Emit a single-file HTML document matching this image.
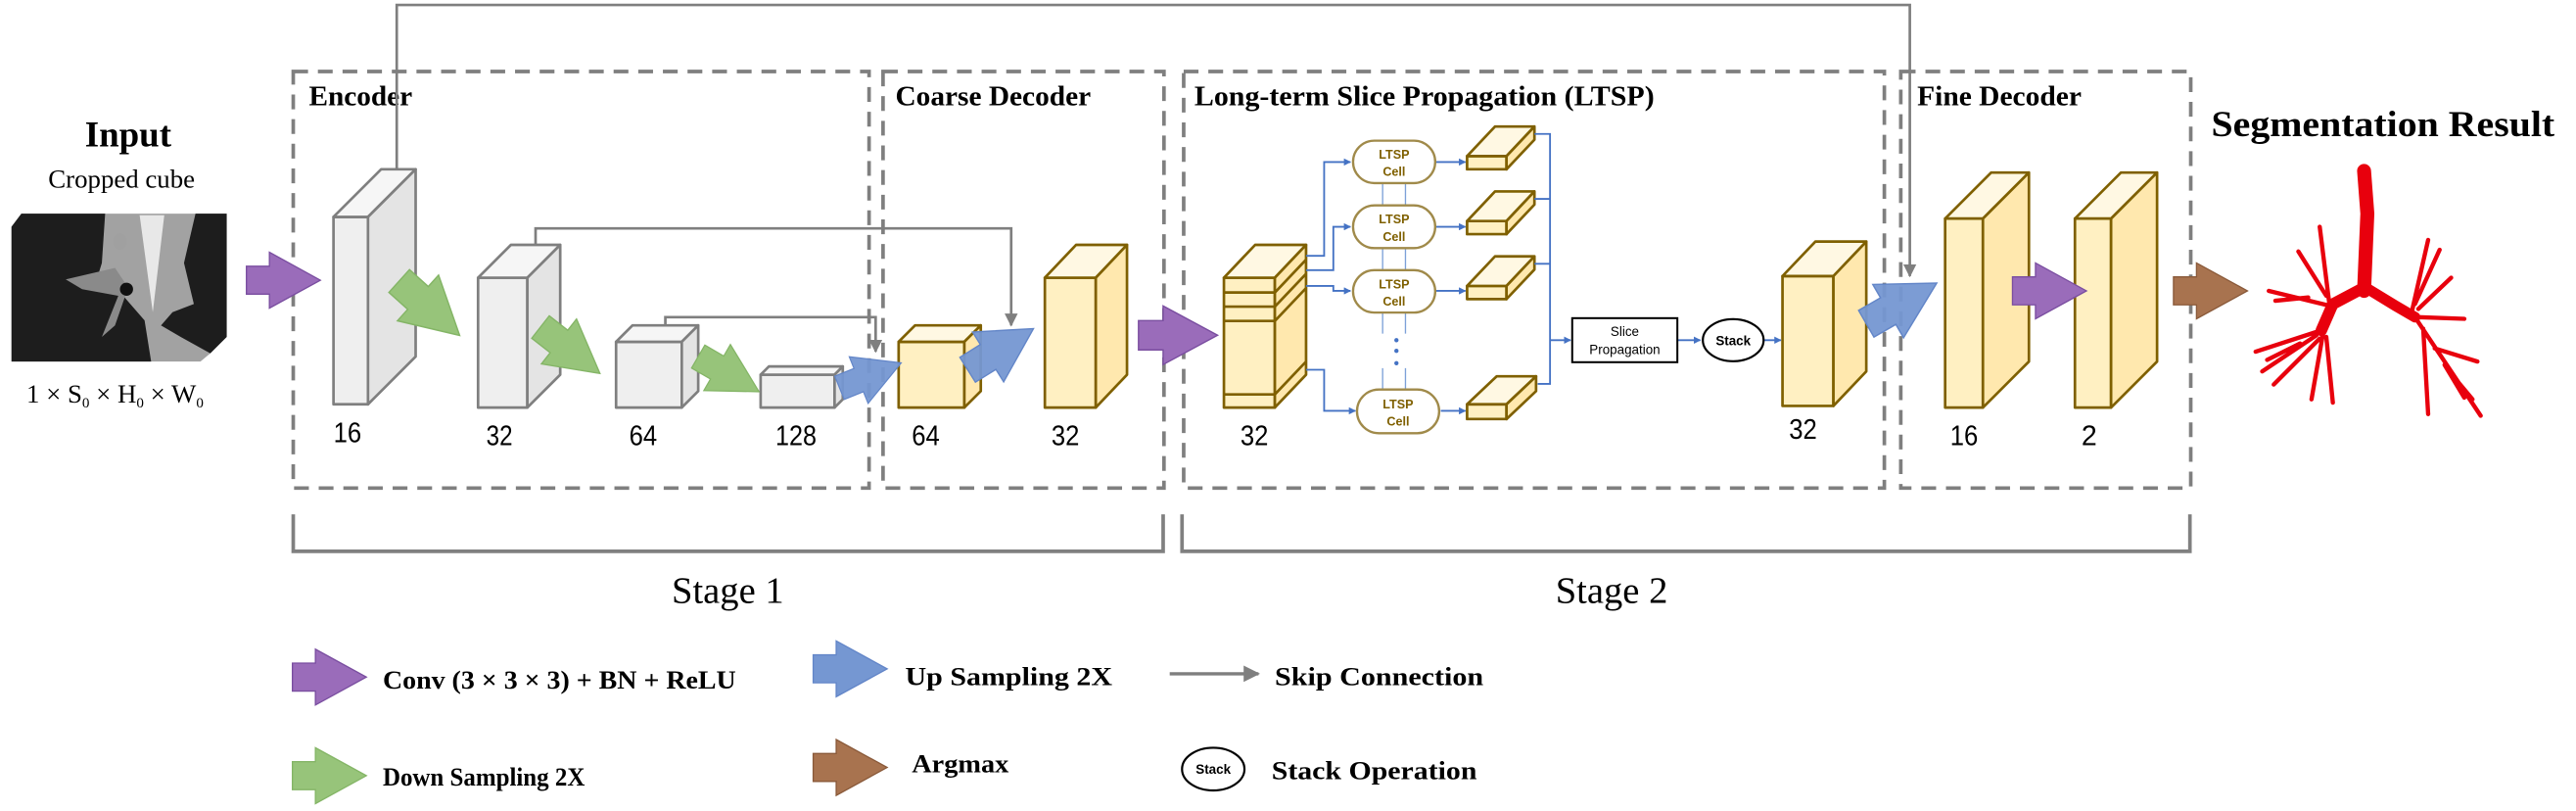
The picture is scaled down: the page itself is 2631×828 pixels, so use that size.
<!DOCTYPE html>
<html><head><meta charset="utf-8"><style>
html,body{margin:0;padding:0;background:#fff;}
svg{display:block;}
.t{font-family:"Liberation Serif",serif;}
.s{font-family:"Liberation Sans",sans-serif;}
</style></head><body>
<svg width="2631" height="828" viewBox="0 0 1568 493.5" preserveAspectRatio="none" xmlns="http://www.w3.org/2000/svg">
<defs>
<polygon id="ar" points="0,-8.5 14,-8.5 14,-17 45,0 14,17 14,8.5 0,8.5"/>
<marker id="mg" viewBox="0 0 10 10" refX="9" refY="5" markerWidth="5" markerHeight="5" orient="auto"><path d="M0,0 L10,5 L0,10 z" fill="#7f7f7f"/></marker>
<marker id="mb" viewBox="0 0 10 10" refX="9" refY="5" markerWidth="4" markerHeight="4" orient="auto"><path d="M0,0 L10,5 L0,10 z" fill="#4472c4"/></marker>
</defs>

<!-- dashed boxes -->
<g fill="none" stroke="#7f7f7f" stroke-width="2.2" stroke-dasharray="9,6">
<rect x="178.5" y="43.5" width="350.5" height="253.5"/>
<rect x="537.5" y="43.5" width="171" height="253.5"/>
<rect x="720.5" y="43.5" width="426.5" height="253.5"/>
<rect x="1157" y="43.5" width="176.5" height="253.5"/>
</g>
<g fill="none" stroke="#808080" stroke-width="2.2">
<path d="M178.5,313 V335.5 H708 V313"/>
<path d="M719.5,313 V335.5 H1333 V313"/>
</g>
<text class="t" x="443" y="367" font-size="23" text-anchor="middle">Stage 1</text>
<text class="t" x="981" y="367" font-size="23" text-anchor="middle">Stage 2</text>

<!-- titles -->
<g class="t" font-weight="bold" font-size="17">
<text x="188" y="64" textLength="63" lengthAdjust="spacingAndGlyphs">Encoder</text>
<text x="545" y="64" textLength="119" lengthAdjust="spacingAndGlyphs">Coarse Decoder</text>
<text x="727" y="64" textLength="280" lengthAdjust="spacingAndGlyphs">Long-term Slice Propagation (LTSP)</text>
<text x="1167" y="64" textLength="100" lengthAdjust="spacingAndGlyphs">Fine Decoder</text>
</g>
<text class="t" x="78" y="89" font-size="22" font-weight="bold" text-anchor="middle">Input</text>
<text class="t" x="74" y="114" font-size="16" text-anchor="middle">Cropped cube</text>
<text class="t" x="1346" y="83" font-size="22" font-weight="bold" textLength="209" lengthAdjust="spacingAndGlyphs">Segmentation Result</text>

<!-- CT image -->
<g>
<polygon points="7,138 13,130 138,130 138,205 128,215 122,220 7,220" fill="#a2a2a2"/>
<polygon points="7,138 13,130 64,130 62,160 58,173 75,180 88,195 92,220 7,220" fill="#1d1d1d"/>
<polygon points="119,130 138,130 138,205 128,215 110,205 98,198 105,190 118,185 112,160" fill="#1d1d1d"/>
<polygon points="85,131 100,131 93,190" fill="#e8e8e8"/>
<path d="M40,170 L70,163 L78,175 L70,198 L62,205 L72,180 L50,176 Z" fill="#8a8a8a"/>
<ellipse cx="73" cy="147" rx="4" ry="5" fill="#a0a0a0"/>
<circle cx="77" cy="176" r="4" fill="#111"/>
</g>
<text class="t" x="70" y="245" font-size="16" text-anchor="middle">1 × S<tspan font-size="9" dy="3">0</tspan><tspan dy="-3"> × H</tspan><tspan font-size="9" dy="3">0</tspan><tspan dy="-3"> × W</tspan><tspan font-size="9" dy="3">0</tspan></text>

<!-- skip connections -->
<g fill="none" stroke="#7f7f7f" stroke-width="1.6">
<path d="M241.5,103 V3 H1162.5 V168" marker-end="url(#mg)"/>
<path d="M326,149 V139 H615.5 V198" marker-end="url(#mg)"/>
<path d="M405,198 V193 H533 V214" marker-end="url(#mg)"/>
</g>

<!-- gray blocks -->
<g stroke="#7f7f7f" stroke-width="1.6" stroke-linejoin="round">
<rect x="203" y="132" width="21" height="114" fill="#efefef"/>
<polygon points="203,132 232,103 253,103 224,132" fill="#f6f6f6"/>
<polygon points="224,132 253,103 253,217 224,246" fill="#e4e4e4"/>
<rect x="291" y="169" width="30" height="79" fill="#efefef"/>
<polygon points="291,169 311,149 341,149 321,169" fill="#f6f6f6"/>
<polygon points="321,169 341,149 341,228 321,248" fill="#e4e4e4"/>
<rect x="375" y="208" width="40" height="40" fill="#efefef"/>
<polygon points="375,208 385,198 425,198 415,208" fill="#f6f6f6"/>
<polygon points="415,208 425,198 425,238 415,248" fill="#e4e4e4"/>
<rect x="463" y="228" width="45" height="20" fill="#efefef"/>
<polygon points="463,228 468,223 513,223 508,228" fill="#f6f6f6"/>
<polygon points="508,228 513,223 513,243 508,248" fill="#e4e4e4"/>
</g>
<!-- yellow blocks -->
<g stroke="#7f6000" stroke-width="1.6" stroke-linejoin="round">
<rect x="547" y="208" width="40" height="40" fill="#fff0c2"/>
<polygon points="547,208 557,198 597,198 587,208" fill="#fff8e3"/>
<polygon points="587,208 597,198 597,238 587,248" fill="#ffe8ae"/>
<rect x="636" y="169" width="31" height="79" fill="#fff0c2"/>
<polygon points="636,169 655,149 686,149 667,169" fill="#fff8e3"/>
<polygon points="667,169 686,149 686,228 667,248" fill="#ffe8ae"/>
<rect x="745" y="169" width="31" height="79" fill="#fff0c2"/>
<polygon points="745,169 764,149 795,149 776,169" fill="#fff8e3"/>
<polygon points="776,169 795,149 795,228 776,248" fill="#ffe8ae"/>
<path d="M745,178 H776 L795,158 M745,186.6 H776 L795,166.6 M745,195.3 H776 L795,175.3 M745,240 H776 L795,220" fill="none"/>
<rect x="1085" y="168" width="31" height="79" fill="#fff0c2"/>
<polygon points="1085,168 1105,147 1136,147 1116,168" fill="#fff8e3"/>
<polygon points="1116,168 1136,147 1136,226 1116,247" fill="#ffe8ae"/>
<rect x="1184" y="133" width="23" height="115" fill="#fff0c2"/>
<polygon points="1184,133 1212,105 1235,105 1207,133" fill="#fff8e3"/>
<polygon points="1207,133 1235,105 1235,220 1207,248" fill="#ffe8ae"/>
<rect x="1263" y="133" width="22" height="115" fill="#fff0c2"/>
<polygon points="1263,133 1291,105 1313,105 1285,133" fill="#fff8e3"/>
<polygon points="1285,133 1313,105 1313,220 1285,248" fill="#ffe8ae"/>
<g id="sb">
<rect x="893" y="95" width="24" height="8" fill="#fff0c2"/>
<polygon points="893,95 910,77 934,77 917,95" fill="#fff8e3"/>
<polygon points="917,95 934,77 934,85 917,103" fill="#ffe8ae"/>
</g>
<use href="#sb" transform="translate(0,39.5)"/>
<use href="#sb" transform="translate(0,79)"/>
<rect x="893" y="246" width="24" height="9" fill="#fff0c2"/>
<polygon points="893,246 911,229 935,229 917,246" fill="#fff8e3"/>
<polygon points="917,246 935,229 935,238 917,255" fill="#ffe8ae"/>
</g>

<!-- LTSP wiring -->
<g fill="none" stroke="#4472c4" stroke-width="1.1">
<path d="M795,155.7 H806 V98.6 H822" marker-end="url(#mb)"/>
<path d="M795,164.4 H811.6 V138 H822" marker-end="url(#mb)"/>
<path d="M795,174 H811.6 V177 H822" marker-end="url(#mb)"/>
<path d="M795,225 H806 V250 H825" marker-end="url(#mb)"/>
<path d="M874,98.6 H892" marker-end="url(#mb)"/>
<path d="M874,138 H892" marker-end="url(#mb)"/>
<path d="M874,177 H892" marker-end="url(#mb)"/>
<path d="M877,250 H892" marker-end="url(#mb)"/>
<path d="M934,81.5 H943.5 V233.6 H936 M934,121 H943.5 M934,160.5 H943.5"/>
<path d="M943.5,207 H956" marker-end="url(#mb)"/>
<path d="M1021,207 H1035" marker-end="url(#mb)"/>
<path d="M1074,207 H1084" marker-end="url(#mb)"/>
</g>
<g fill="none" stroke="#7da0d8" stroke-width="0.8">
<path d="M841.6,111.4 V125 M855.5,111.4 V125 M841.6,151 V164.4 M855.5,151 V164.4 M841.6,190 V203 M855.5,190 V203 M841.6,224 V237 M855.5,224 V237"/>
</g>
<g fill="#4472c4"><circle cx="850" cy="207" r="1.3"/><circle cx="850" cy="213.5" r="1.3"/><circle cx="850" cy="221" r="1.3"/></g>
<g fill="#fff" stroke="#a08a4a" stroke-width="1.4">
<rect x="823.6" y="85.6" width="50" height="25.8" rx="12.9"/>
<rect x="823.6" y="125" width="50" height="26" rx="13"/>
<rect x="823.6" y="164.4" width="50" height="25.8" rx="12.9"/>
<rect x="826" y="237" width="50" height="26.6" rx="13.3"/>
</g>
<g class="s" font-size="7.5" font-weight="bold" fill="#7f6000" text-anchor="middle">
<text x="848.6" y="96.5">LTSP</text><text x="848.6" y="107">Cell</text>
<text x="848.6" y="136">LTSP</text><text x="848.6" y="146.5">Cell</text>
<text x="848.6" y="175.5">LTSP</text><text x="848.6" y="186">Cell</text>
<text x="851" y="248.5">LTSP</text><text x="851" y="259">Cell</text>
</g>
<rect x="957" y="193.6" width="64" height="26.8" fill="#fff" stroke="#000" stroke-width="1.2"/>
<g class="s" font-size="8" text-anchor="middle"><text x="989" y="204.5">Slice</text><text x="989" y="215.5">Propagation</text></g>
<ellipse cx="1055" cy="207" rx="18.5" ry="12.8" fill="#fff" stroke="#000" stroke-width="1.3"/>
<text class="s" x="1055" y="210" font-size="8" font-weight="bold" text-anchor="middle">Stack</text>

<!-- block arrows -->
<use href="#ar" fill="#9a6cba" stroke="#7a4ea0" stroke-width="0.8" transform="translate(150,170.5)"/>
<use href="#ar" fill="#9a6cba" stroke="#7a4ea0" stroke-width="0.8" transform="translate(693,204) scale(1.07,1.05)"/>
<use href="#ar" fill="#9a6cba" stroke="#7a4ea0" stroke-width="0.8" transform="translate(1225,177)"/>
<use href="#ar" fill="#a8734f" stroke="#8a5a3a" stroke-width="0.8" transform="translate(1323,177)"/>
<use href="#ar" fill="#97c47a" stroke="#84b566" stroke-width="0.8" transform="translate(243,171) rotate(42) scale(1.1)"/>
<use href="#ar" fill="#97c47a" stroke="#84b566" stroke-width="0.8" transform="translate(329,199) rotate(38) scale(1.02)"/>
<use href="#ar" fill="#97c47a" stroke="#84b566" stroke-width="0.8" transform="translate(425,217) rotate(30) scale(0.95)"/>
<use href="#ar" fill="#7597d2" fill-opacity="0.95" stroke="#6386c8" stroke-width="0.8" transform="translate(511,236) rotate(-22) scale(0.9)"/>
<use href="#ar" fill="#7597d2" fill-opacity="0.95" stroke="#6386c8" stroke-width="0.8" transform="translate(589,225) rotate(-32) scale(1.05)"/>
<use href="#ar" fill="#7597d2" fill-opacity="0.95" stroke="#6386c8" stroke-width="0.8" transform="translate(1136,197) rotate(-30) scale(1.1)"/>

<!-- number labels -->
<g class="s" font-size="17">
<text x="203" y="269" textLength="17" lengthAdjust="spacingAndGlyphs">16</text>
<text x="296" y="271" textLength="16" lengthAdjust="spacingAndGlyphs">32</text>
<text x="383" y="271" textLength="17" lengthAdjust="spacingAndGlyphs">64</text>
<text x="472" y="271" textLength="25" lengthAdjust="spacingAndGlyphs">128</text>
<text x="555" y="271" textLength="17" lengthAdjust="spacingAndGlyphs">64</text>
<text x="640" y="271" textLength="17" lengthAdjust="spacingAndGlyphs">32</text>
<text x="755" y="271" textLength="17" lengthAdjust="spacingAndGlyphs">32</text>
<text x="1089" y="267" textLength="17" lengthAdjust="spacingAndGlyphs">32</text>
<text x="1187" y="271" textLength="17" lengthAdjust="spacingAndGlyphs">16</text>
<text x="1267" y="271">2</text>
</g>

<!-- airway tree -->
<g fill="none" stroke="#e8000d" stroke-linecap="round" stroke-linejoin="round">
<path d="M1439,104 L1441,130 L1439,177" stroke-width="8.5"/>
<path d="M1439,175 L1420,185 L1413,201" stroke-width="7"/>
<path d="M1440,175 L1458,186 L1470,193" stroke-width="6.5"/>
<g stroke-width="2.6">
<path d="M1413,201 L1373,214 M1410,204 L1377,226 M1412,206 L1384,234 M1414,203 L1407,243 M1416,205 L1420,245 M1418,186 L1381,177 M1418,186 L1412,138 M1416,180 L1399,153 M1405,181 L1385,183 M1400,209 L1380,219"/>
<path d="M1470,193 L1510,253 M1475,200 L1478,252 M1482,212 L1508,220 M1472,193 L1500,194 M1468,190 L1478,146 M1470,185 L1485,152 M1472,188 L1492,169 M1488,222 L1500,242 M1490,225 L1505,243"/>
</g>
</g>

<!-- legend -->
<use href="#ar" fill="#9a6cba" stroke="#7a4ea0" stroke-width="0.8" transform="translate(178,412)"/>
<use href="#ar" fill="#97c47a" stroke="#84b566" stroke-width="0.8" transform="translate(178,472)"/>
<use href="#ar" fill="#7597d2" stroke="#6386c8" stroke-width="0.8" transform="translate(495,407)"/>
<use href="#ar" fill="#a8734f" stroke="#8a5a3a" stroke-width="0.8" transform="translate(495,467)"/>
<g class="t" font-weight="bold" font-size="16">
<text x="233" y="419" textLength="215" lengthAdjust="spacingAndGlyphs">Conv (3 × 3 × 3) + BN + ReLU</text>
<text x="233" y="478" textLength="123" lengthAdjust="spacingAndGlyphs">Down Sampling 2X</text>
<text x="551" y="417" textLength="126" lengthAdjust="spacingAndGlyphs">Up Sampling 2X</text>
<text x="555" y="470" textLength="59" lengthAdjust="spacingAndGlyphs">Argmax</text>
<text x="776" y="417" textLength="127" lengthAdjust="spacingAndGlyphs">Skip Connection</text>
<text x="774" y="474" textLength="125" lengthAdjust="spacingAndGlyphs">Stack Operation</text>
</g>
<path d="M712,410 H766" stroke="#7f7f7f" stroke-width="2" marker-end="url(#mg)"/>
<ellipse cx="738.5" cy="468" rx="19" ry="13" fill="#fff" stroke="#000" stroke-width="1.3"/>
<text class="s" x="738.5" y="471" font-size="8" font-weight="bold" text-anchor="middle">Stack</text>
</svg>
</body></html>
